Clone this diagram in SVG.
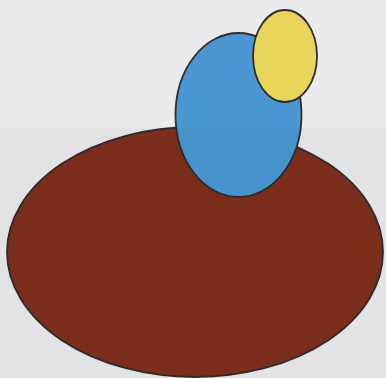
<svg xmlns="http://www.w3.org/2000/svg" width="386" height="378" viewBox="0 0 386 378">
<style>
.sh{stroke:#2e2e2e;stroke-width:1.8}
</style>
<rect width="386" height="378" fill="#ebebed"/>
<g id="base"><ellipse class="sh" cx="195" cy="252" rx="188" ry="125" fill="#7e301c"/></g>
<g id="blue"><ellipse class="sh" cx="238.5" cy="115" rx="63" ry="82" fill="#4a97d2"/></g>
<g id="yellow"><ellipse class="sh" cx="285" cy="56" rx="32" ry="46" fill="#e9d55c"/></g>
<rect y="128" width="386" height="250" fill="#000" opacity="0.03"/>
</svg>
